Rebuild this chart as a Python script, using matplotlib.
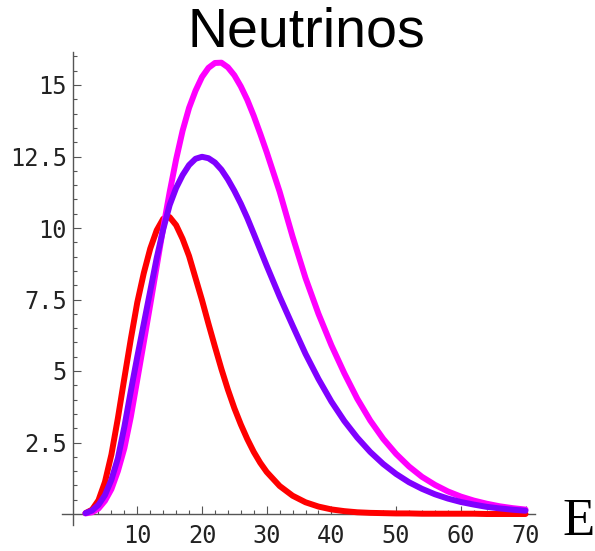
import numpy as np
import matplotlib
matplotlib.use('Agg')
import matplotlib.pyplot as plt
from matplotlib.ticker import FixedLocator

# energy grid (E) and the three spectra
energy = list(range(2, 31)) + list(range(32, 71, 2))

red_flux = [0.03, 0.15, 0.48, 1.12, 2.08, 3.35, 4.75, 6.12, 7.4, 8.42,
            9.28, 9.92, 10.32, 10.38, 10.1, 9.62, 9.02, 8.25, 7.48, 6.65,
            5.85, 5.07, 4.35, 3.7, 3.13, 2.62, 2.17, 1.79, 1.47,
            0.98, 0.64, 0.41, 0.26, 0.16, 0.1, 0.06, 0.04, 0.03, 0.02,
            0.02, 0.01, 0.01, 0.01, 0.01, 0.01, 0.0, 0.0, 0.0, 0.0]

purple_flux = [0.03, 0.12, 0.32, 0.66, 1.2, 1.95, 3.05, 4.3, 5.5, 6.65,
               7.8, 8.95, 9.95, 10.8, 11.4, 11.85, 12.2, 12.42, 12.49, 12.44,
               12.29, 12.04, 11.7, 11.3, 10.85, 10.35, 9.8, 9.24, 8.68,
               7.6, 6.59, 5.6, 4.72, 3.93, 3.25, 2.67, 2.17, 1.75, 1.4,
               1.11, 0.88, 0.69, 0.54, 0.42, 0.33, 0.25, 0.195, 0.15, 0.115]

magenta_flux = [0.02, 0.06, 0.19, 0.46, 0.87, 1.5, 2.3, 3.4, 4.7, 6.0,
                7.32, 8.66, 10.0, 11.25, 12.4, 13.4, 14.2, 14.8, 15.28, 15.6,
                15.77, 15.78, 15.62, 15.34, 14.95, 14.48, 13.92, 13.3, 12.65,
                11.27, 9.7, 8.25, 7.0, 5.9, 4.92, 4.03, 3.27, 2.63, 2.1,
                1.66, 1.3, 1.02, 0.79, 0.61, 0.47, 0.36, 0.27, 0.205, 0.155]

x_ticks = [10, 20, 30, 40, 50, 60, 70]
y_ticks = [2.5, 5, 7.5, 10, 12.5, 15]
y_tick_labels = ['2.5', '5', '7.5', '10', '12.5', '15']

W, H = 595, 551
x0_px, x_scale = 72.6, 6.47     # pixel of E=0, pixels per unit
y0_px, y_scale = 514.0, 28.6    # pixel of value 0, pixels per unit

fig = plt.figure(figsize=(W / 100, H / 100), dpi=100)
ax = fig.add_axes([0, 0, 1, 1])
ax.set_xlim(-x0_px / x_scale, (W - x0_px) / x_scale)
ax.set_ylim((y0_px - H) / y_scale, y0_px / y_scale)

ax.plot(energy, red_flux, color='#FF0000', lw=4.3, solid_capstyle='round',
        solid_joinstyle='round', zorder=3)
ax.plot(energy, magenta_flux, color='#FF00FF', lw=4.3, solid_capstyle='round',
        solid_joinstyle='round', zorder=4)
ax.plot(energy, purple_flux, color='#8000FF', lw=4.3, solid_capstyle='round',
        solid_joinstyle='round', zorder=5)

# mathematica style axes crossing at the origin
for s in ['top', 'right']:
    ax.spines[s].set_visible(False)
axis_col = '#555555'
ax.spines['left'].set_position(('data', 0))
ax.spines['bottom'].set_position(('data', 0))
ax.spines['left'].set_bounds(-0.38, 16.15)
ax.spines['bottom'].set_bounds(-1.64, 71.5)
for s in ['left', 'bottom']:
    ax.spines[s].set_color(axis_col)
    ax.spines[s].set_linewidth(1.0)

ax.xaxis.set_major_locator(FixedLocator(x_ticks))
ax.xaxis.set_minor_locator(FixedLocator(np.arange(2, 71, 2)))
ax.yaxis.set_major_locator(FixedLocator(y_ticks))
ax.yaxis.set_minor_locator(FixedLocator(np.arange(0.5, 16.01, 0.5)))
ax.set_yticklabels(y_tick_labels)
ax.set_xticklabels([str(t) for t in x_ticks])

ax.tick_params(which='both', direction='in', color=axis_col, width=0.8)
ax.tick_params(which='major', length=5.5)
ax.tick_params(which='minor', length=3)
ax.tick_params(axis='x', pad=7)
ax.tick_params(axis='y', pad=4)
for lab in ax.get_xticklabels() + ax.get_yticklabels():
    lab.set_family('DejaVu Sans Mono')
    lab.set_fontsize(17)
    lab.set_color('#222222')

fig.text(306.7 / W, 1 - 46.7 / H, 'Neutrinos', ha='center', va='baseline',
         fontsize=40, family=['Liberation Sans', 'DejaVu Sans'])
fig.text(579 / W, 1 - 535 / H, 'E', ha='center', va='baseline',
         fontsize=38, family=['Liberation Serif', 'DejaVu Serif'])

fig.savefig('out.png', dpi=100)
